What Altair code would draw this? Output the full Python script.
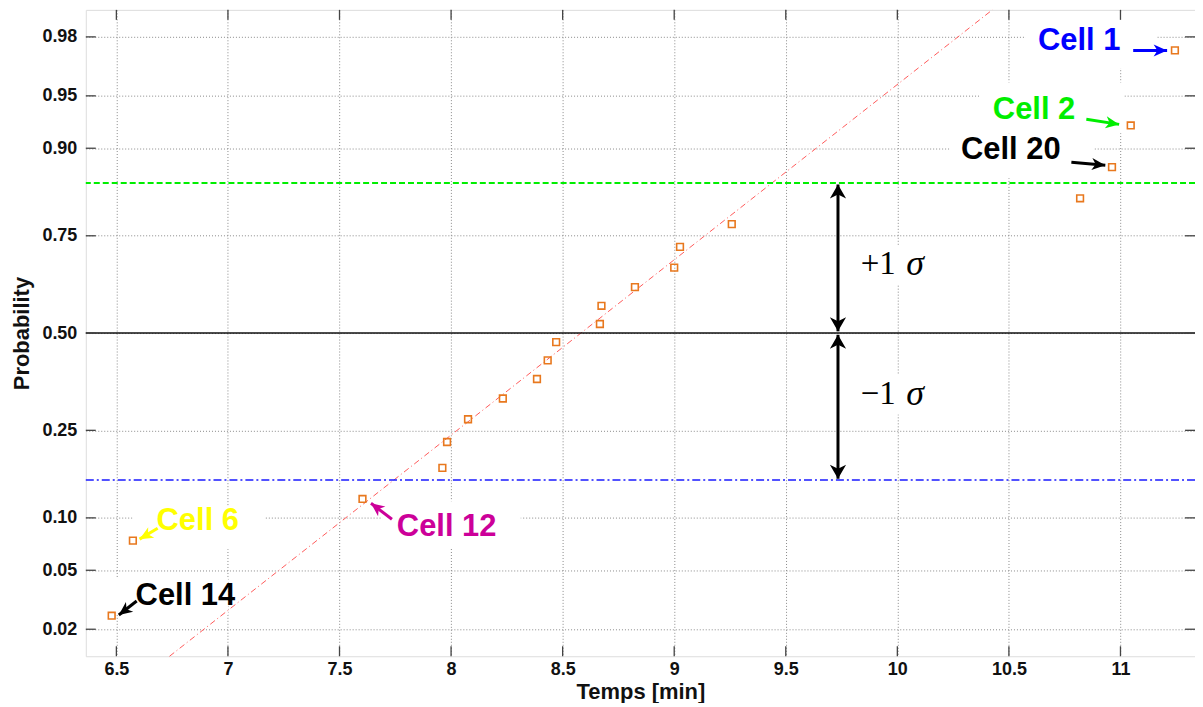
import altair as alt
import pandas as pd
from statistics import NormalDist

# ---------------- data ----------------
cell_time = [6.479, 6.574, 7.603, 7.961, 7.982, 8.076, 8.232, 8.385, 8.433, 8.471,
             8.667, 8.674, 8.824, 9.000, 9.026, 9.258, 10.819, 10.962, 11.046, 11.244]
cell_prob = [0.025, 0.075, 0.125, 0.175, 0.225, 0.275, 0.325, 0.375, 0.425, 0.475,
             0.525, 0.575, 0.625, 0.675, 0.725, 0.775, 0.825, 0.875, 0.925, 0.975]

fit_time = [6.738, 10.426]
fit_prob = [0.0125, 0.9875]

plus_sigma_prob = [0.851]
median_prob = [0.5]
minus_sigma_prob = [0.154]

x_ticks = [6.5, 7, 7.5, 8, 8.5, 9, 9.5, 10, 10.5, 11]
y_tick_probs = [0.02, 0.05, 0.10, 0.25, 0.50, 0.75, 0.90, 0.95, 0.98]

# annotations (x in minutes, y in probit units)
ann_label = ["Cell 1", "Cell 2", "Cell 20", "Cell 6", "Cell 14", "Cell 12"]
ann_color = ["#0000ff", "#00ee00", "#000000", "#ffff00", "#000000", "#cc0099"]
ann_text_x = [10.630, 10.428, 10.285, 6.680, 6.586, 7.757]
ann_text_z = [2.028, 1.544, 1.268, -1.305, -1.824, -1.346]
ann_tail_x = [11.057, 10.847, 10.780, 6.685, 6.591, 7.735]
ann_tail_z = [1.959, 1.482, 1.185, -1.353, -1.858, -1.291]
ann_head_x = [11.209, 10.994, 10.932, 6.604, 6.511, 7.641]
ann_head_z = [1.959, 1.447, 1.164, -1.429, -1.955, -1.180]
ann_angle = [90, 99, 95, 240, 233, 307]
box_x1 = [10.574, 10.368, 10.234, 6.573, 6.440, 7.691, 9.801, 9.801]
box_x2 = [11.164, 11.017, 10.883, 7.163, 7.000, 8.312, 10.203, 10.203]
box_z1 = [2.222, 1.738, 1.385, -1.202, -1.700, -1.167, 0.610, -0.288]
box_z2 = [1.835, 1.385, 1.074, -1.499, -1.955, -1.498, 0.334, -0.565]

sigma_x = [9.734, 9.734]
sigma_from_z = [0.012, -0.012]
sigma_to_z = [1.03, -1.01]
sigma_sign = ["+1", "−1"]
sigma_sign_x = [9.836, 9.836]
sigma_sym_x = [10.040, 10.040]
sigma_text_z = [0.479, -0.42]

# ---------------- tables ----------------
nd = NormalDist()
y_tick_z = [nd.inv_cdf(p) for p in y_tick_probs]

cells = pd.DataFrame({"t": cell_time, "p": cell_prob})
fit = pd.DataFrame({"t": fit_time, "p": fit_prob})
hl_plus = pd.DataFrame({"p": plus_sigma_prob})
hl_med = pd.DataFrame({"p": median_prob})
hl_minus = pd.DataFrame({"p": minus_sigma_prob})
ann = pd.DataFrame({"label": ann_label, "color": ann_color, "tx": ann_text_x, "tz": ann_text_z,
                    "x1": ann_tail_x, "z1": ann_tail_z, "x2": ann_head_x, "z2": ann_head_z,
                    "angle": ann_angle})
boxes = pd.DataFrame({"x1": box_x1, "x2": box_x2, "z1": box_z1, "z2": box_z2})
sig = pd.DataFrame({"x": sigma_x, "z1": sigma_from_z, "z2": sigma_to_z,
                    "sign": sigma_sign, "sx": sigma_sign_x, "gx": sigma_sym_x,
                    "tz": sigma_text_z, "sym": ["σ", "σ"]})
heads_sig = pd.DataFrame({"x": sigma_x + sigma_x,
                          "z": sigma_to_z + sigma_from_z,
                          "angle": [0, 180, 180, 0]})
xt = pd.DataFrame({"t": x_ticks})
yt = pd.DataFrame({"z": y_tick_z})

W, H = 1112, 648
xs = alt.Scale(domain=[6.363, 11.334], nice=False, zero=False)
ys = alt.Scale(domain=[-2.241, 2.241], nice=False, zero=False)

FONT = "Liberation Sans"
xaxis = alt.Axis(values=x_ticks, format="~g", title="Temps [min]", ticks=False, domain=False,
                 grid=True, gridColor="#8a8a8a", gridDash=[1, 2], gridWidth=1,
                 labelFont=FONT, labelFontWeight="bold", labelFontSize=18, labelColor="#111",
                 labelPadding=4, labelFlush=False, labelOverlap=False,
                 titleFont=FONT, titleFontWeight="bold", titleFontSize=22, titleColor="#111",
                 titlePadding=3)
yaxis = alt.Axis(values=y_tick_z, labelExpr="format(cumulativeNormal(datum.value), '.2f')",
                 title="Probability", ticks=False, domain=False,
                 grid=True, gridColor="#8a8a8a", gridDash=[1, 2], gridWidth=1,
                 labelFont=FONT, labelFontWeight="bold", labelFontSize=18, labelColor="#111",
                 labelPadding=9, labelFlush=False, labelOverlap=False,
                 titleFont=FONT, titleFontWeight="bold", titleFontSize=22, titleColor="#111",
                 titlePadding=8)

# white label backgrounds
bg = alt.Chart(boxes).mark_rect(color="white").encode(
    x=alt.X("x1:Q", scale=xs, axis=xaxis), x2="x2:Q",
    y=alt.Y("z1:Q", scale=ys, axis=yaxis), y2="z2:Q")

fit_line = alt.Chart(fit).transform_calculate(z="quantileNormal(datum.p)").mark_line(
    color="#ff5a5a", strokeWidth=1, strokeDash=[6, 3, 1, 3]).encode(
    x=alt.X("t:Q", scale=xs), y=alt.Y("z:Q", scale=ys))

plus_line = alt.Chart(hl_plus).transform_calculate(z="quantileNormal(datum.p)").mark_rule(
    color="#00ee00", strokeWidth=2, strokeDash=[6, 3]).encode(y=alt.Y("z:Q", scale=ys))
med_line = alt.Chart(hl_med).transform_calculate(z="quantileNormal(datum.p)").mark_rule(
    color="#111111", strokeWidth=1.5).encode(y=alt.Y("z:Q", scale=ys))
minus_line = alt.Chart(hl_minus).transform_calculate(z="quantileNormal(datum.p)").mark_rule(
    color="#1a1aff", strokeWidth=1.5, strokeDash=[8, 3, 2, 3]).encode(y=alt.Y("z:Q", scale=ys))

pts = alt.Chart(cells).transform_calculate(z="quantileNormal(datum.p)").mark_point(
    shape="square", filled=False, color="#e8781e", size=45, strokeWidth=1.6, opacity=1).encode(
    x=alt.X("t:Q", scale=xs), y=alt.Y("z:Q", scale=ys))

ARROW = "M0,0 L0.45,1 L0,0.72 L-0.45,1 Z"
ARROW_S = "M0,0 L0.58,1 L0,0.72 L-0.58,1 Z"

ann_rule = alt.Chart(ann).mark_rule(strokeWidth=3).encode(
    x=alt.X("x1:Q", scale=xs), x2="x2:Q", y=alt.Y("z1:Q", scale=ys), y2="z2:Q",
    color=alt.Color("color:N", scale=None))
ann_head = alt.Chart(ann).mark_point(shape=ARROW, filled=True, size=729, opacity=1,
                                      strokeWidth=0).encode(
    x=alt.X("x2:Q", scale=xs), y=alt.Y("z2:Q", scale=ys),
    angle=alt.Angle("angle:Q", scale=None),
    color=alt.Color("color:N", scale=None))
ann_text = alt.Chart(ann).mark_text(font=FONT, fontWeight="bold", fontSize=31,
                                     align="left", baseline="middle").encode(
    x=alt.X("tx:Q", scale=xs), y=alt.Y("tz:Q", scale=ys), text="label:N",
    color=alt.Color("color:N", scale=None))

sig_rule = alt.Chart(sig).mark_rule(strokeWidth=3, color="black").encode(
    x=alt.X("x:Q", scale=xs), y=alt.Y("z1:Q", scale=ys), y2="z2:Q")
sig_head = alt.Chart(heads_sig).mark_point(shape=ARROW_S, filled=True, size=784, opacity=1,
                                           color="black", strokeWidth=0).encode(
    x=alt.X("x:Q", scale=xs), y=alt.Y("z:Q", scale=ys),
    angle=alt.Angle("angle:Q", scale=None))
sig_sign = alt.Chart(sig).mark_text(font="Liberation Serif", fontSize=33, align="left",
                                     baseline="middle", color="black").encode(
    x=alt.X("sx:Q", scale=xs), y=alt.Y("tz:Q", scale=ys), text="sign:N")
sig_sym = alt.Chart(sig).mark_text(font="Liberation Serif", fontSize=36, fontStyle="italic",
                                    align="left", baseline="middle", color="black").encode(
    x=alt.X("gx:Q", scale=xs), y=alt.Y("tz:Q", scale=ys), text="sym:N")

# inward tick marks on all four sides of the frame
tick_col = "#444444"
tb = alt.Chart(xt).mark_rule(color=tick_col, strokeWidth=1.3).encode(
    x=alt.X("t:Q", scale=xs), y=alt.value(H), y2=alt.value(H - 10))
tt = alt.Chart(xt).mark_rule(color=tick_col, strokeWidth=1.3).encode(
    x=alt.X("t:Q", scale=xs), y=alt.value(0), y2=alt.value(10))
tl = alt.Chart(yt).mark_rule(color=tick_col, strokeWidth=1.3).encode(
    y=alt.Y("z:Q", scale=ys), x=alt.value(0), x2=alt.value(10))
tr = alt.Chart(yt).mark_rule(color=tick_col, strokeWidth=1.3).encode(
    y=alt.Y("z:Q", scale=ys), x=alt.value(W), x2=alt.value(W - 10))

chart = alt.layer(
    bg, fit_line, plus_line, minus_line, med_line, tb, tt, tl, tr,
    pts, ann_rule, ann_head, ann_text, sig_rule, sig_head, sig_sign, sig_sym
).properties(
    width=W, height=H,
    autosize=alt.AutoSizeParams(type="none"),
    padding={"left": 78, "top": 1, "right": 0, "bottom": 46},
).configure_view(stroke="#333333", strokeWidth=1.5).configure(background="white")

chart.save("out.html", embed_options={"renderer": "svg", "actions": False})
